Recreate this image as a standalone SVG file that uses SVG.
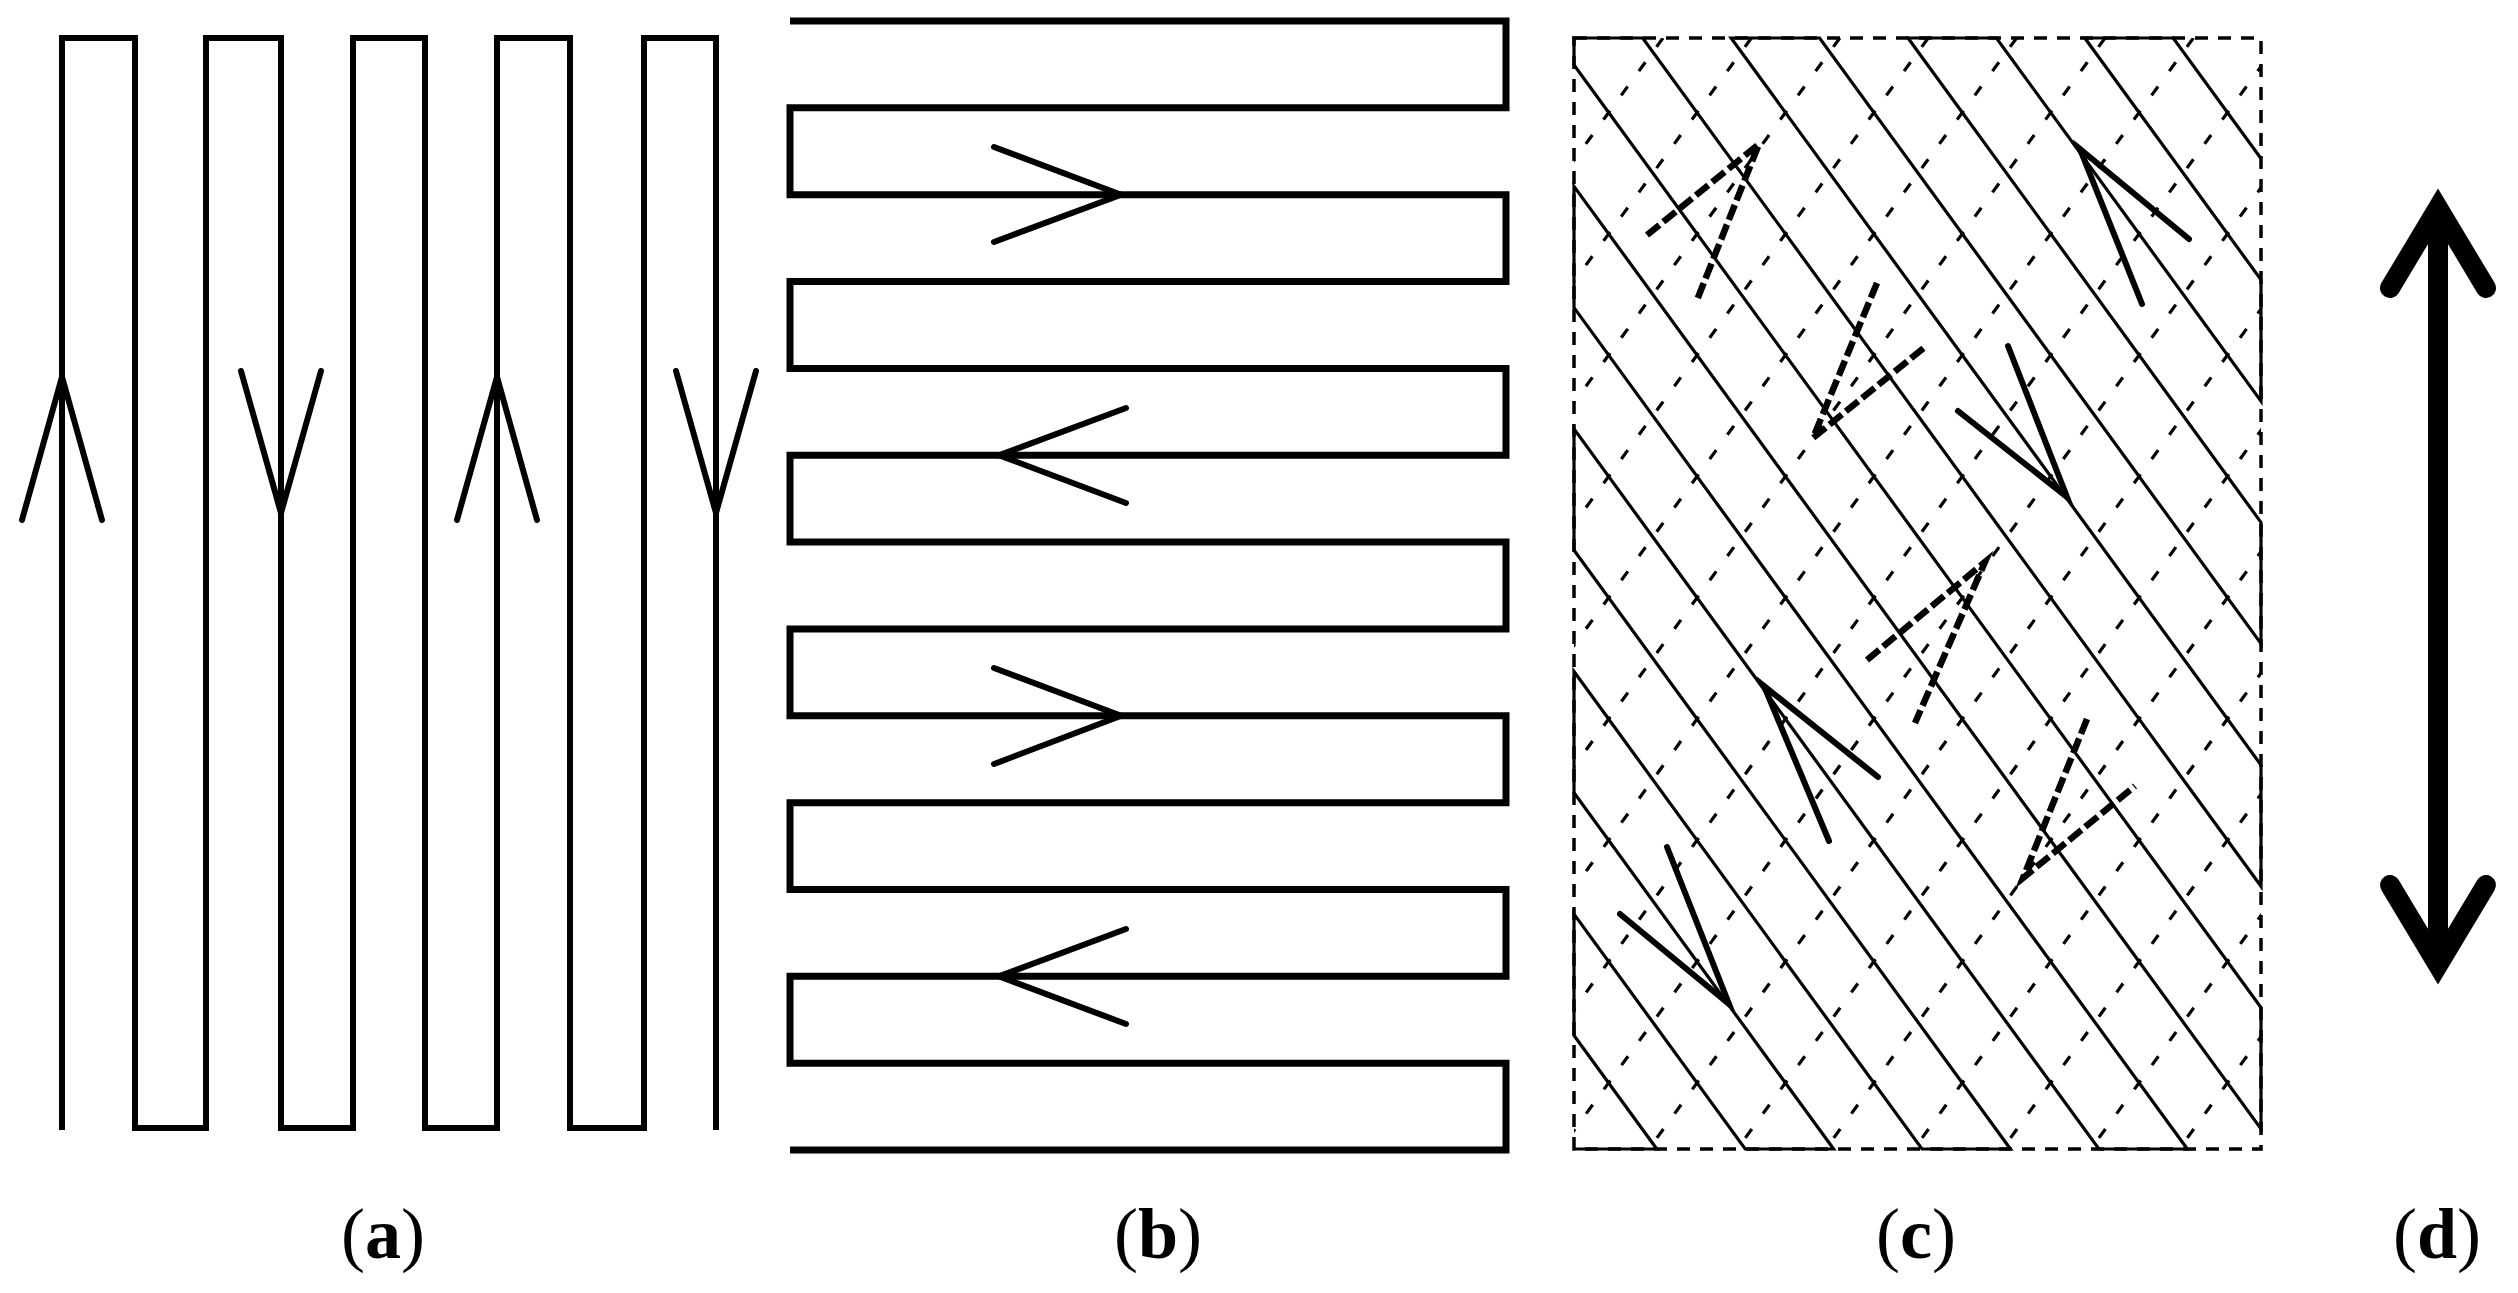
<svg xmlns="http://www.w3.org/2000/svg" width="2518" height="1293" viewBox="0 0 2518 1293">
<style>
.bg{fill:#fff}
.path{fill:none;stroke:#000;stroke-linejoin:miter;stroke-miterlimit:10;stroke-linecap:butt}
.pa{stroke-width:6}
.pb{stroke-width:7}
.arr{fill:none;stroke:#000;stroke-width:6;stroke-linejoin:miter;stroke-miterlimit:20;stroke-linecap:round}
.border{fill:none;stroke:#000;stroke-width:3.5;stroke-dasharray:13 10}
.hatch{fill:none;stroke:#000;stroke-width:3.2;stroke-dasharray:11 19}
.track{fill:none;stroke:#000;stroke-width:3.2;stroke-linejoin:miter;stroke-miterlimit:10}
.sa{fill:none;stroke:#000;stroke-width:6;stroke-linejoin:miter;stroke-miterlimit:20;stroke-linecap:round}
.da{fill:none;stroke:#000;stroke-width:6.5;stroke-dasharray:16 5;stroke-linejoin:miter;stroke-miterlimit:20}
.big{fill:none;stroke:#000;stroke-width:20;stroke-linejoin:miter;stroke-miterlimit:10;stroke-linecap:round}
.lbl{font-family:"Liberation Serif","Times New Roman",serif;font-size:72px;fill:#000;text-anchor:middle}
.lbl tspan.b{font-weight:bold}
</style>
<defs>
<clipPath id="clipC"><rect x="1574" y="38" width="687" height="1111"/></clipPath>
</defs>
<rect class="bg" x="0" y="0" width="2518" height="1293"/>

<g id="panel-a">
<path class="path pa" d="M62,1130 V38 H135 V1128 H206 V38 H281 V1128 H353 V38 H425 V1128 H497 V38 H570 V1128 H644 V38 H716 V1130"/>
<g id="arrows-a">
<polyline class="arr" points="22,520 62,377 102,520"/>
<polyline class="arr" points="241,371 281,513 321,371"/>
<polyline class="arr" points="457,520 497,377 537,520"/>
<polyline class="arr" points="676,371 716,513 756,371"/>
</g>
</g>

<g id="panel-b">
<path class="path pb" d="M790,21 H1506 V107.85 H790 V194.7 H1506 V281.55 H790 V368.4 H1506 V455.25 H790 V542.1 H1506 V628.95 H790 V715.8 H1506 V802.65 H790 V889.5 H1506 V976.35 H790 V1063.2 H1506 V1150 H790"/>
<g id="arrows-b">
<polyline class="arr" points="994,147 1121,194.7 994,242"/>
<polyline class="arr" points="1126,408 999,455.25 1126,503"/>
<polyline class="arr" points="994,668 1121,715.8 994,764"/>
<polyline class="arr" points="1126,929 999,976.35 1126,1024"/>
</g>
</g>

<g id="panel-c">
<rect class="border" x="1574" y="38" width="687" height="1111"/>
<g id="hatch-c" clip-path="url(#clipC)">
<line class="hatch" x1="1663" y1="38" x2="853.2" y2="1149"/>
<line class="hatch" x1="1751.4" y1="38" x2="941.6" y2="1149"/>
<line class="hatch" x1="1839.8" y1="38" x2="1030" y2="1149"/>
<line class="hatch" x1="1928.2" y1="38" x2="1118.4" y2="1149"/>
<line class="hatch" x1="2016.6" y1="38" x2="1206.8" y2="1149"/>
<line class="hatch" x1="2105" y1="38" x2="1295.2" y2="1149"/>
<line class="hatch" x1="2193.4" y1="38" x2="1383.6" y2="1149"/>
<line class="hatch" x1="2281.8" y1="38" x2="1472" y2="1149"/>
<line class="hatch" x1="2370.2" y1="38" x2="1560.4" y2="1149"/>
<line class="hatch" x1="2458.6" y1="38" x2="1648.8" y2="1149"/>
<line class="hatch" x1="2547" y1="38" x2="1737.2" y2="1149"/>
<line class="hatch" x1="2635.4" y1="38" x2="1825.6" y2="1149"/>
<line class="hatch" x1="2723.8" y1="38" x2="1914" y2="1149"/>
<line class="hatch" x1="2812.2" y1="38" x2="2002.4" y2="1149"/>
<line class="hatch" x1="2900.6" y1="38" x2="2090.8" y2="1149"/>
<line class="hatch" x1="2989" y1="38" x2="2179.2" y2="1149"/>
</g>
<path class="track" d="M1574,1149 L1656.8,1149 L1574,1035.4 L1574,914.1 L1745.2,1149 L1833.6,1149 L1574,792.8 L1574,671.5 L1922,1149 L2010.4,1149 L1574,550.2 L1574,428.9 L2098.9,1149 L2187.3,1149 L1574,307.6 L1574,186.3 L2261,1128.9 L2261,1007.6 L1574,65 L1574,38 L1642.7,38 L2261,886.3 L2261,765 L1731.1,38 L1819.6,38 L2261,643.7 L2261,522.4 L1908,38 L1996.4,38 L2261,401.1 L2261,279.8 L2084.8,38 L2173.2,38 L2261,158.5"/>
<g id="arrows-c">
<path class="da" d="M1647,235 L1759,144 L1697,300"/>
<polyline class="sa" points="2189,239 2080,149 2142,304"/>
<path class="da" d="M1877,283 L1813,438 L1925,347"/>
<polyline class="sa" points="2008,346 2067,497 1958,411"/>
<path class="da" d="M1867,660 L1985,562 L1915,723"/>
<polyline class="sa" points="1878,777 1764,686 1829,841"/>
<path class="da" d="M2087,719 L2023,878 L2135,786"/>
<polyline class="sa" points="1667,847 1729,1004 1620,914"/>
</g>
</g>

<g id="panel-d">
<line class="big" x1="2438" y1="212" x2="2438" y2="962" style="stroke-linecap:butt"/>
<polyline class="big" points="2390,288 2438,208 2486,288"/>
<polyline class="big" points="2390,885 2438,965 2486,885"/>
</g>

<g id="labels">
<text class="lbl" x="383" y="1258">(<tspan class="b">a</tspan>)</text>
<text class="lbl" x="1158" y="1258">(<tspan class="b">b</tspan>)</text>
<text class="lbl" x="1916" y="1258">(<tspan class="b">c</tspan>)</text>
<text class="lbl" x="2437" y="1258">(<tspan class="b">d</tspan>)</text>
</g>
</svg>
